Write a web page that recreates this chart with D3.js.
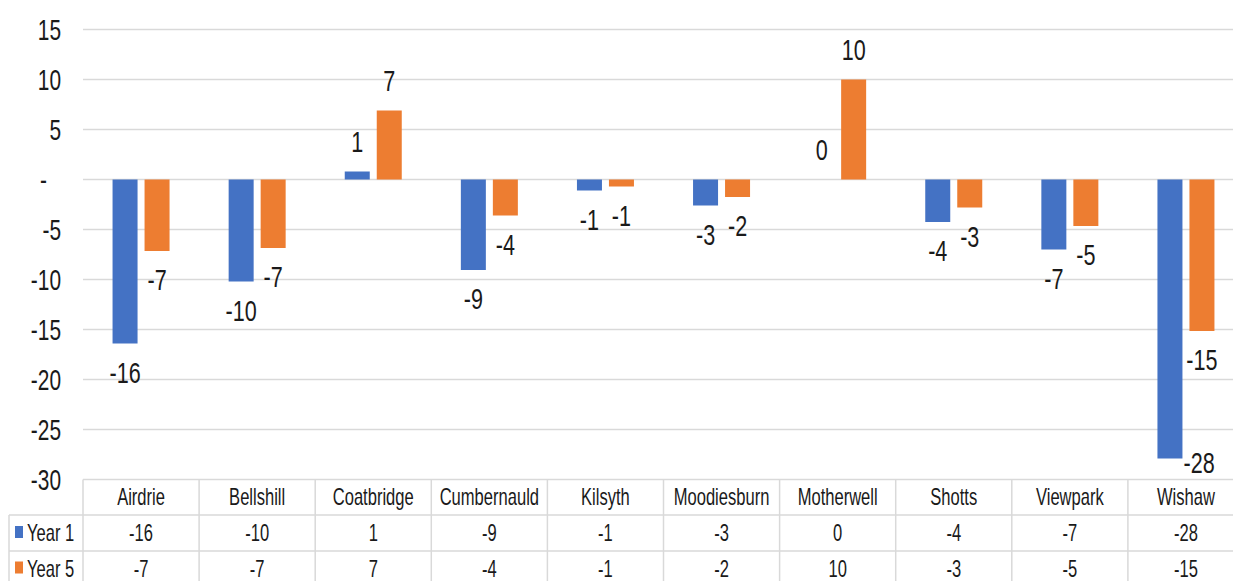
<!DOCTYPE html>
<html>
<head>
<meta charset="utf-8">
<script src="https://cdn.jsdelivr.net/npm/d3@7"></script>
<style>
  html, body { margin: 0; padding: 0; background: #fff; }
  svg { display: block; }
</style>
</head>
<body>
<svg id="chart" width="1233" height="581"></svg>
<script>
// Change by locality, Year 1 vs Year 5
const categories = ["Airdrie", "Bellshill", "Coatbridge", "Cumbernauld", "Kilsyth",
  "Moodiesburn", "Motherwell", "Shotts", "Viewpark", "Wishaw"];
const seriesNames = ["Year 1", "Year 5"];
const year1 = [-16.4, -10.2, 0.8, -9.05, -1.1, -2.6, 0, -4.25, -7.0, -27.9];
const year5 = [-7.15, -6.85, 6.9, -3.6, -0.7, -1.75, 10.0, -2.8, -4.65, -15.15];
const yTicks = [15, 10, 5, 0, -5, -10, -15, -20, -25, -30];
const seriesColors = ["#4472C4", "#ED7D31"];

// Pick a condensed face when one is available
function hasFont(name) {
  const c = document.createElement("canvas").getContext("2d");
  const probe = "0123456789abcXYZ-";
  c.font = "30px monospace";
  const base = c.measureText(probe).width;
  c.font = `30px "${name}", monospace`;
  return c.measureText(probe).width !== base;
}
const narrow = hasFont("Liberation Sans Narrow");
const FONT = narrow ? "'Liberation Sans Narrow', 'Liberation Sans', Arial, sans-serif"
                    : "'Liberation Sans', Arial, sans-serif";
const SX = narrow ? 0.88 : 0.72;
const INK = "#1a1a1a";
const GRID = "#d9d9d9";

const svg = d3.select("#chart");
const plotLeft = 83, plotRight = 1244;

const x = d3.scaleBand().domain(categories).range([plotLeft, plotRight]);
const xs = d3.scaleBand().domain(seriesNames).range([0, 57]).paddingInner(0.21875);
const y = d3.scaleLinear().domain([-30, 15]).range([479.5, 29.5]);
const groupOffset = x.bandwidth() / 2 - 28.5;

// Whole numbers with a plain hyphen for negatives
const fmt = v => d3.format(".0f")(v).replace("\u2212", "-");

function label(g, px, py, s, size, anchor) {
  return g.append("text")
    .attr("transform", `translate(${px},${py}) scale(${SX},1)`)
    .attr("text-anchor", anchor || "middle")
    .attr("font-family", FONT)
    .attr("font-size", size)
    .attr("fill", INK)
    .text(s);
}

// Horizontal gridlines
svg.append("g").selectAll("line").data(yTicks).join("line")
  .attr("x1", plotLeft).attr("x2", plotRight)
  .attr("y1", d => y(d)).attr("y2", d => y(d))
  .attr("stroke", GRID).attr("stroke-width", 1.5);

// Value axis (zero shown as a dash)
const axisG = svg.append("g")
  .attr("transform", `translate(61,0) scale(${SX},1)`)
  .call(d3.axisLeft(y).tickValues(yTicks).tickSize(0).tickPadding(0)
    .tickFormat(d => d === 0 ? "-" : fmt(d)));
axisG.select(".domain").remove();
axisG.selectAll("text")
  .attr("font-family", FONT).attr("font-size", 29).attr("fill", INK)
  .attr("dy", "0.35em")
  .attr("dx", d => d === 0 ? -14 / SX : 0);

// Bars
const rows = categories.map((c, i) => ({ c, values: [year1[i], year5[i]] }));
const barsG = svg.append("g");
rows.forEach(r => {
  r.values.forEach((v, si) => {
    const bx = x(r.c) + groupOffset + xs(seriesNames[si]);
    const bw = xs.bandwidth();
    barsG.append("rect")
      .attr("x", bx).attr("width", bw)
      .attr("y", y(Math.max(0, v)))
      .attr("height", Math.abs(y(v) - y(0)))
      .attr("fill", seriesColors[si]);
    // Outside-end value label, kept inside the plot bottom
    let ly, lx = bx + bw / 2, anchor = "middle";
    if (v >= 0) {
      ly = y(v) - 19.5;
    } else {
      ly = y(v) + 39;
      if (ly > y(-30) - 6) { ly = y(-30) - 6.5; lx = bx + bw + 1; anchor = "start"; }
    }
    label(barsG, lx, ly, fmt(v), 30, anchor);
  });
});

// Data table under the axis
const tableG = svg.append("g");
const rowLines = [515, 551];
rowLines.forEach(ry => {
  tableG.append("line").attr("x1", 9).attr("x2", plotRight)
    .attr("y1", ry).attr("y2", ry).attr("stroke", GRID).attr("stroke-width", 1.5);
});
tableG.append("line").attr("x1", 9).attr("x2", 9)
  .attr("y1", 515).attr("y2", 590).attr("stroke", GRID).attr("stroke-width", 1.5);
const edges = categories.map(c => x(c)).concat([plotRight]);
tableG.selectAll("line.col").data(edges).join("line").attr("class", "col")
  .attr("x1", d => d).attr("x2", d => d)
  .attr("y1", y(-30)).attr("y2", 590)
  .attr("stroke", GRID).attr("stroke-width", 1.5);

categories.forEach(c => label(tableG, x(c) + x.bandwidth() / 2, 504.5, c, 23));
const rowBase = [541, 576.5];
[year1, year5].forEach((vals, si) => {
  tableG.append("rect").attr("x", 15).attr("y", rowBase[si] - 15)
    .attr("width", 8).attr("height", 12).attr("fill", seriesColors[si]);
  label(tableG, 27, rowBase[si], seriesNames[si], 23, "start");
  vals.forEach((v, i) => label(tableG, x(categories[i]) + x.bandwidth() / 2, rowBase[si], fmt(v), 23));
});
</script>
</body>
</html>
